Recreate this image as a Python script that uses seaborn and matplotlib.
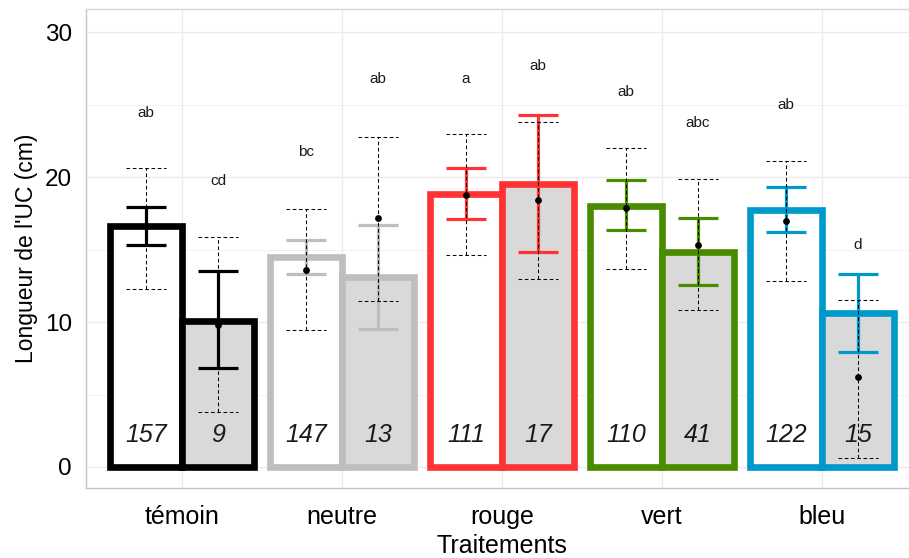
import numpy as np
import pandas as pd
import matplotlib
matplotlib.use("Agg")
import matplotlib.pyplot as plt
import seaborn as sns

# ---------------- data ----------------
treatments = ["témoin", "neutre", "rouge", "vert", "bleu"]
groups = ["groupe 1", "groupe 2"]
edge_colors = ["#000000", "#BEBEBE", "#FF3333", "#4A8C00", "#0099CC"]

bar_w = [16.6, 14.5, 18.85, 18.0, 17.7]
bar_g = [10.1, 13.1, 19.55, 14.8, 10.65]

se_hi_w = [17.95, 15.65, 20.65, 19.8, 19.35]
se_lo_w = [15.3, 13.3, 17.1, 16.35, 16.2]
se_hi_g = [13.5, 16.7, 24.3, 17.15, 13.35]
se_lo_g = [6.8, 9.5, 14.8, 12.55, 7.9]

pt_w = [16.6, 13.6, 18.8, 17.9, 16.95]
pt_g = [9.8, 17.15, 18.4, 15.35, 6.2]
dash_hi_w = [20.6, 17.8, 22.95, 22.0, 21.1]
dash_lo_w = [12.3, 9.45, 14.6, 13.65, 12.8]
dash_hi_g = [15.9, 22.8, 23.8, 19.85, 11.5]
dash_lo_g = [3.8, 11.45, 13.0, 10.8, 0.65]

letters_w = ["ab", "bc", "a", "ab", "ab"]
letters_y_w = [24.4, 21.7, 26.8, 25.9, 25.0]
letters_g = ["cd", "ab", "ab", "abc", "d"]
letters_y_g = [19.7, 26.75, 27.7, 23.7, 15.35]

n_w = [157, 147, 111, 110, 122]
n_g = [9, 13, 17, 41, 15]
n_y = 2.2

# ---------------- figure ----------------
sns.set_style("whitegrid")
plt.rcParams["font.family"] = ["Liberation Sans", "DejaVu Sans"]

fig = plt.figure(figsize=(9.09, 5.58), dpi=100)
ax = fig.add_axes([86 / 909, 70 / 558, 832 / 909, 479 / 558])

df = pd.DataFrame({
    "Traitement": treatments * 2,
    "groupe": [groups[0]] * 5 + [groups[1]] * 5,
    "valeur": bar_w + bar_g,
})

sns.barplot(data=df, x="Traitement", y="valeur", hue="groupe",
            order=treatments, hue_order=groups,
            palette={groups[0]: "white", groups[1]: "#D9D9D9"},
            width=0.9, errorbar=None, ax=ax, legend=False, zorder=2)

bar_lw = 4.8
for gi, cont in enumerate(ax.containers):
    for ti, patch in enumerate(cont.patches):
        patch.set_edgecolor(edge_colors[ti])
        patch.set_linewidth(bar_lw)
        patch.set_joinstyle("miter")
        patch.set_zorder(2 + gi * 0.1)

# positions from the categorical scale
dodge = 0.9 / 4
cap = 0.125
xs = np.arange(len(treatments))

def solid_err(xpos, lo, hi, colors):
    for x, l, h, c in zip(xpos, lo, hi, colors):
        ax.vlines(x, l, h, colors=c, linewidth=2.3, zorder=4)
        ax.hlines([l, h], x - cap, x + cap, colors=c, linewidth=2.3, zorder=4)

def dashed_err(xpos, lo, hi):
    for x, l, h in zip(xpos, lo, hi):
        ax.vlines(x, l, h, colors="black", linewidth=0.75,
                  linestyles=(0, (3.5, 2.5)), zorder=5)
        ax.hlines([l, h], x - cap, x + cap, colors="black", linewidth=0.75,
                  linestyles=(0, (3.5, 2.5)), zorder=5)

solid_err(xs - dodge, se_lo_w, se_hi_w, edge_colors)
solid_err(xs + dodge, se_lo_g, se_hi_g, edge_colors)
dashed_err(xs - dodge, dash_lo_w, dash_hi_w)
dashed_err(xs + dodge, dash_lo_g, dash_hi_g)

ax.scatter(xs - dodge, pt_w, s=24, color="black", zorder=6, linewidths=0)
ax.scatter(xs + dodge, pt_g, s=24, color="black", zorder=6, linewidths=0)

for i in range(len(treatments)):
    ax.text(xs[i] - dodge, letters_y_w[i], letters_w[i], ha="center", va="center",
            fontsize=11, color="#1A1A1A", zorder=7)
    ax.text(xs[i] + dodge, letters_y_g[i], letters_g[i], ha="center", va="center",
            fontsize=11, color="#1A1A1A", zorder=7)
    ax.text(xs[i] - dodge, n_y, str(n_w[i]), ha="center", va="center",
            fontsize=18, style="italic", color="#1A1A1A", zorder=7)
    ax.text(xs[i] + dodge, n_y, str(n_g[i]), ha="center", va="center",
            fontsize=18, style="italic", color="#1A1A1A", zorder=7)

ax.set_xlim(-0.6, 4.6)
ax.set_ylim(-1.45, 31.6)
ax.set_yticks([0, 10, 20, 30])
ax.set_yticks([5, 15, 25], minor=True)

ax.grid(True, which="major", color="#EBEBEB", linewidth=1.0)
ax.grid(True, which="minor", axis="y", color="#F0F0F0", linewidth=0.6)
ax.set_axisbelow(True)

for side in ["left", "bottom", "top"]:
    ax.spines[side].set_visible(True)
    ax.spines[side].set_color("#C4C4C4")
    ax.spines[side].set_linewidth(1.0)
ax.spines["top"].set_color("#D6D6D6")
ax.spines["right"].set_visible(False)

ax.tick_params(axis="both", which="major", length=5, width=0.8, color="#C4C4C4",
               labelcolor="black", pad=5)
ax.tick_params(axis="x", which="major", labelsize=18, pad=7)
ax.tick_params(axis="y", which="major", labelsize=17.5)
ax.tick_params(axis="y", which="minor", length=0)

ax.set_xlabel("Traitements", fontsize=18, color="black", labelpad=4)
ax.set_ylabel("Longueur de l'UC (cm)", fontsize=16.5, color="black", labelpad=5)

fig.savefig("out.png", dpi=100)
